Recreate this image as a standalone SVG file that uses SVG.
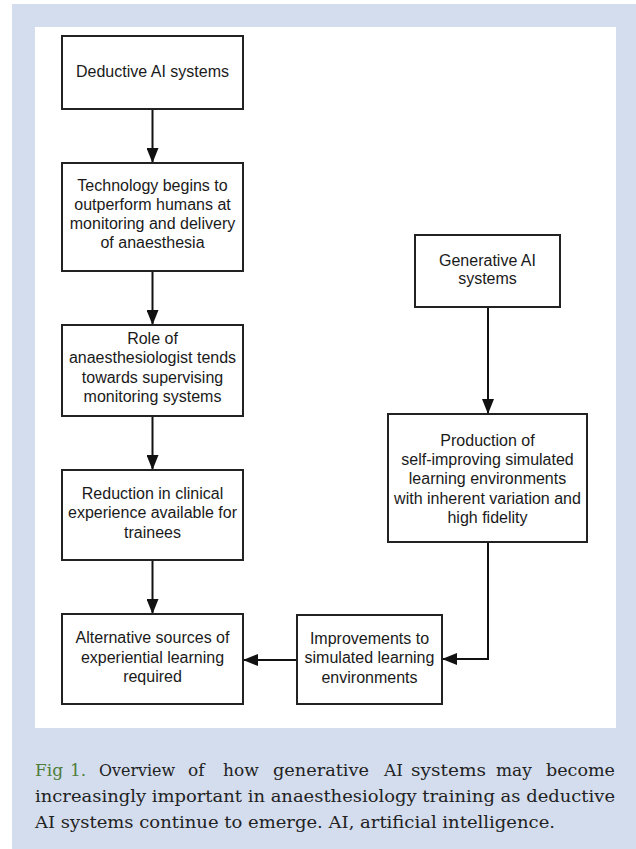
<svg xmlns="http://www.w3.org/2000/svg" width="636" height="849" viewBox="0 0 636 849">
<style>
.box{fill:#ffffff;stroke:#222222;stroke-width:2}
.t{font-family:"Liberation Sans",Arial,sans-serif;font-size:16px;fill:#1a1a1a;text-anchor:middle}
.c{fill:none;stroke:#111111;stroke-width:2}
.cap{font-family:"DejaVu Serif","Liberation Serif",serif;font-size:17px;fill:#222222}
.fig{fill:#4f7d3b}
</style>
<defs>
<marker id="ah" markerUnits="userSpaceOnUse" markerWidth="16" markerHeight="12" refX="15" refY="6" orient="auto">
<path d="M0,0 L15,6 L0,12 Z" fill="#111111"/>
</marker>
</defs>
<rect x="0" y="0" width="636" height="849" fill="#ffffff"/>
<rect x="12" y="4" width="624" height="845" fill="#d4ddee"/>
<rect x="35" y="27" width="581" height="701" fill="#ffffff"/>

<g id="connectors">
<line class="c" x1="152.5" y1="109" x2="152.5" y2="163" marker-end="url(#ah)"/>
<line class="c" x1="152.5" y1="271" x2="152.5" y2="325" marker-end="url(#ah)"/>
<line class="c" x1="152.5" y1="416" x2="152.5" y2="470" marker-end="url(#ah)"/>
<line class="c" x1="152.5" y1="560" x2="152.5" y2="614" marker-end="url(#ah)"/>
<line class="c" x1="488" y1="307" x2="488" y2="414" marker-end="url(#ah)"/>
<polyline class="c" points="488,542 488,659 442,659" marker-end="url(#ah)"/>
<line class="c" x1="297" y1="660" x2="243" y2="660" marker-end="url(#ah)"/>
</g>

<g id="deductive">
<rect class="box" x="62" y="36" width="181" height="73"/>
<text class="t" x="152.5" y="77">Deductive AI systems</text>
</g>
<g id="technology">
<rect class="box" x="62" y="163" width="181" height="108"/>
<text class="t" x="152.5" y="191">Technology begins to</text>
<text class="t" x="152.5" y="210">outperform humans at</text>
<text class="t" x="152.5" y="229">monitoring and delivery</text>
<text class="t" x="152.5" y="248">of anaesthesia</text>
</g>
<g id="role">
<rect class="box" x="62" y="325" width="181" height="91"/>
<text class="t" x="152.5" y="344">Role of</text>
<text class="t" x="152.5" y="363">anaesthesiologist tends</text>
<text class="t" x="152.5" y="383">towards supervising</text>
<text class="t" x="152.5" y="402">monitoring systems</text>
</g>
<g id="reduction">
<rect class="box" x="62" y="470" width="181" height="90"/>
<text class="t" x="152.5" y="499">Reduction in clinical</text>
<text class="t" x="152.5" y="518">experience available for</text>
<text class="t" x="152.5" y="538">trainees</text>
</g>
<g id="alternative">
<rect class="box" x="62" y="614" width="181" height="90"/>
<text class="t" x="152.5" y="643">Alternative sources of</text>
<text class="t" x="152.5" y="663">experiential learning</text>
<text class="t" x="152.5" y="682">required</text>
</g>
<g id="generative">
<rect class="box" x="415" y="235" width="145" height="72"/>
<text class="t" x="487.5" y="266">Generative AI</text>
<text class="t" x="487.5" y="284">systems</text>
</g>
<g id="production">
<rect class="box" x="388" y="414" width="199" height="128"/>
<text class="t" x="487.5" y="446">Production of</text>
<text class="t" x="487.5" y="465">self-improving simulated</text>
<text class="t" x="487.5" y="484">learning environments</text>
<text class="t" x="487.5" y="504">with inherent variation and</text>
<text class="t" x="487.5" y="523">high fidelity</text>
</g>
<g id="improvements">
<rect class="box" x="297" y="615" width="145" height="89"/>
<text class="t" x="369.5" y="644">Improvements to</text>
<text class="t" x="369.5" y="663">simulated learning</text>
<text class="t" x="369.5" y="683">environments</text>
</g>

<g id="caption">
<text class="cap" y="776"><tspan class="fig" x="35">Fig</tspan><tspan class="fig" x="70">1.</tspan><tspan x="99" textLength="76" lengthAdjust="spacingAndGlyphs">Overview</tspan><tspan x="188">of</tspan><tspan x="223">how</tspan><tspan x="273" textLength="96" lengthAdjust="spacingAndGlyphs">generative</tspan><tspan x="384">AI</tspan><tspan x="411" textLength="75" lengthAdjust="spacingAndGlyphs">systems</tspan><tspan x="496">may</tspan><tspan x="546" textLength="69" lengthAdjust="spacingAndGlyphs">become</tspan></text>
<text class="cap" x="35" y="802" textLength="580" lengthAdjust="spacingAndGlyphs">increasingly important in anaesthesiology training as deductive</text>
<text class="cap" x="35" y="828" textLength="520" lengthAdjust="spacingAndGlyphs">AI systems continue to emerge. AI, artificial intelligence.</text>
</g>
</svg>
